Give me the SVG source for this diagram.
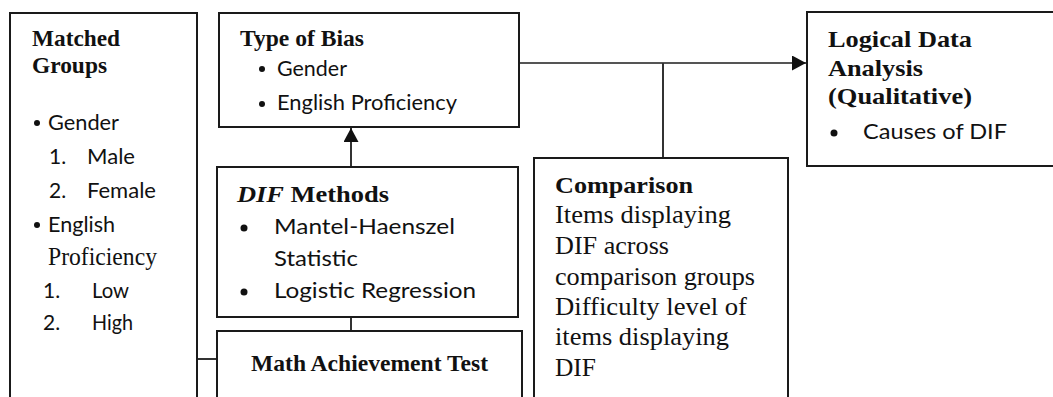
<svg xmlns="http://www.w3.org/2000/svg" width="1053" height="397" viewBox="0 0 1053 397">
<style>
.box{fill:#fff;stroke:#1a1a1a;stroke-width:2}
.hd{font-family:"Liberation Serif","Times New Roman",serif;font-weight:bold;font-size:24px;fill:#111}
.sr{font-family:"Liberation Serif","Times New Roman",serif;font-size:25.5px;fill:#111}
.ss{font-family:Lato,"Liberation Sans",sans-serif;font-size:21px;fill:#111}
.con{fill:none;stroke:#333;stroke-width:2}
.dot{fill:#111}
</style>
<defs>
<marker id="ah" markerWidth="14" markerHeight="15" refX="14" refY="7.5" orient="auto" markerUnits="userSpaceOnUse">
<path d="M0,0 L14,7.5 L0,15 Z" fill="#111"/>
</marker>
</defs>
<rect width="1053" height="397" fill="#fff"/>
<g id="connectors">
<line class="con" x1="351" y1="167" x2="351" y2="128" marker-end="url(#ah)"/>
<line class="con" x1="351" y1="317" x2="351" y2="331"/>
<line class="con" x1="197" y1="359" x2="217" y2="359"/>
<line class="con" x1="519" y1="63" x2="806" y2="63" marker-end="url(#ah)" style="stroke:#555"/>
<line class="con" x1="663" y1="63" x2="663" y2="158"/>
</g>
<g id="matched-groups">
<rect class="box" x="10" y="13" width="187" height="400"/>
<text class="hd" x="32" y="46" textLength="88" lengthAdjust="spacingAndGlyphs">Matched</text>
<text class="hd" x="32" y="73" textLength="75" lengthAdjust="spacingAndGlyphs">Groups</text>
<circle class="dot" cx="37" cy="123" r="3"/>
<text class="ss" x="48" y="130" textLength="71" lengthAdjust="spacingAndGlyphs">Gender</text>
<text class="ss" x="49" y="164">1.</text>
<text class="ss" x="87" y="164" textLength="48" lengthAdjust="spacingAndGlyphs">Male</text>
<text class="ss" x="49" y="198">2.</text>
<text class="ss" x="87" y="198" textLength="69" lengthAdjust="spacingAndGlyphs">Female</text>
<circle class="dot" cx="37" cy="225" r="3"/>
<text class="ss" x="48" y="232" textLength="67" lengthAdjust="spacingAndGlyphs">English</text>
<text class="sr" x="48" y="265" textLength="109" lengthAdjust="spacingAndGlyphs">Proficiency</text>
<text class="ss" x="43" y="298">1.</text>
<text class="ss" x="92" y="298" textLength="37" lengthAdjust="spacingAndGlyphs">Low</text>
<text class="ss" x="43" y="330">2.</text>
<text class="ss" x="92" y="330" textLength="41" lengthAdjust="spacingAndGlyphs">High</text>
</g>
<g id="type-of-bias">
<rect class="box" x="219" y="13" width="300" height="114"/>
<text class="hd" x="240" y="46" textLength="124" lengthAdjust="spacingAndGlyphs">Type of Bias</text>
<circle class="dot" cx="262" cy="69" r="3"/>
<text class="ss" x="277" y="76" textLength="70" lengthAdjust="spacingAndGlyphs">Gender</text>
<circle class="dot" cx="262" cy="104" r="3"/>
<text class="ss" x="277" y="110" textLength="180" lengthAdjust="spacingAndGlyphs">English Proficiency</text>
</g>
<g id="dif-methods">
<rect class="box" x="217" y="167" width="301" height="150"/>
<text class="hd" x="237" y="202" textLength="152" lengthAdjust="spacingAndGlyphs"><tspan font-style="italic">DIF</tspan> Methods</text>
<circle class="dot" cx="244" cy="228" r="3.5"/>
<text class="ss" x="274" y="234" textLength="181" lengthAdjust="spacingAndGlyphs">Mantel-Haenszel</text>
<text class="ss" x="274" y="266" textLength="84" lengthAdjust="spacingAndGlyphs">Statistic</text>
<circle class="dot" cx="244" cy="292" r="3.5"/>
<text class="ss" x="274" y="298" textLength="202" lengthAdjust="spacingAndGlyphs">Logistic Regression</text>
</g>
<g id="math-test">
<rect class="box" x="217" y="331" width="305" height="90"/>
<text class="hd" x="251" y="371" textLength="237" lengthAdjust="spacingAndGlyphs">Math Achievement Test</text>
</g>
<g id="comparison">
<rect class="box" x="534" y="158" width="254" height="260"/>
<text class="hd" x="555" y="193" textLength="138" lengthAdjust="spacingAndGlyphs">Comparison</text>
<text class="sr" x="555" y="223" textLength="176" lengthAdjust="spacingAndGlyphs">Items displaying</text>
<text class="sr" x="555" y="254" textLength="114" lengthAdjust="spacingAndGlyphs">DIF across</text>
<text class="sr" x="555" y="285" textLength="200" lengthAdjust="spacingAndGlyphs">comparison groups</text>
<text class="sr" x="555" y="315" textLength="192" lengthAdjust="spacingAndGlyphs">Difficulty level of</text>
<text class="sr" x="555" y="345" textLength="174" lengthAdjust="spacingAndGlyphs">items displaying</text>
<text class="sr" x="555" y="376" textLength="41" lengthAdjust="spacingAndGlyphs">DIF</text>
</g>
<g id="logical-analysis">
<rect class="box" x="807" y="12" width="260" height="154"/>
<text class="hd" x="828" y="47" textLength="144" lengthAdjust="spacingAndGlyphs">Logical Data</text>
<text class="hd" x="828" y="76" textLength="95" lengthAdjust="spacingAndGlyphs">Analysis</text>
<text class="hd" x="828" y="104" textLength="144" lengthAdjust="spacingAndGlyphs">(Qualitative)</text>
<circle class="dot" cx="834" cy="133" r="3.5"/>
<text class="ss" x="863" y="139" textLength="144" lengthAdjust="spacingAndGlyphs">Causes of DIF</text>
</g>
</svg>
